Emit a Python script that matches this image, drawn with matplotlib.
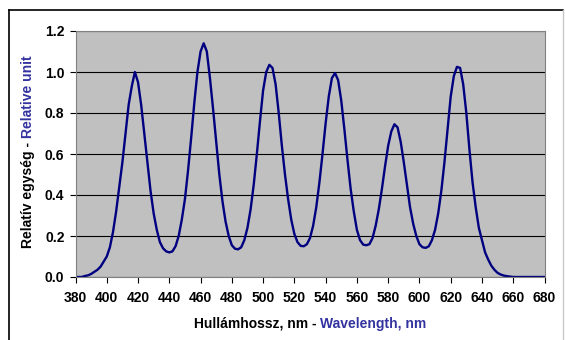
import matplotlib
matplotlib.use("Agg")
import matplotlib.pyplot as plt
from matplotlib.lines import Line2D

# spectrum, 2 nm steps
wavelength = list(range(380, 682, 2))
intensity = [
    0.00, 0.00, 0.00, 0.005, 0.008, 0.015, 0.025, 0.035, 0.05, 0.075,   # 380-398
    0.10, 0.145, 0.22, 0.32, 0.44, 0.56, 0.70, 0.84, 0.93, 1.00,        # 400-418
    0.95, 0.84, 0.70, 0.56, 0.42, 0.31, 0.23, 0.17, 0.14, 0.125,        # 420-438
    0.12, 0.125, 0.15, 0.20, 0.28, 0.38, 0.52, 0.68, 0.85, 1.00,        # 440-458
    1.10, 1.14, 1.10, 0.97, 0.82, 0.66, 0.50, 0.37, 0.27, 0.20,         # 460-478
    0.155, 0.138, 0.135, 0.145, 0.18, 0.24, 0.33, 0.45, 0.60, 0.76,     # 480-498
    0.91, 1.00, 1.035, 1.02, 0.94, 0.80, 0.64, 0.50, 0.38, 0.28,        # 500-518
    0.21, 0.17, 0.152, 0.15, 0.16, 0.19, 0.25, 0.34, 0.46, 0.60,        # 520-538
    0.75, 0.88, 0.97, 0.995, 0.96, 0.86, 0.72, 0.57, 0.43, 0.32,        # 540-558
    0.23, 0.18, 0.158, 0.155, 0.16, 0.19, 0.25, 0.33, 0.43, 0.54,       # 560-578
    0.64, 0.71, 0.745, 0.73, 0.66, 0.56, 0.45, 0.34, 0.26, 0.20,        # 580-598
    0.16, 0.145, 0.142, 0.15, 0.18, 0.23, 0.31, 0.42, 0.56, 0.72,       # 600-618
    0.88, 0.98, 1.025, 1.02, 0.94, 0.80, 0.62, 0.46, 0.34, 0.24,        # 620-638
    0.18, 0.12, 0.085, 0.055, 0.035, 0.02, 0.012, 0.007, 0.004, 0.002,  # 640-658
    0.0, 0.0, 0.0, 0.0, 0.0, 0.0, 0.0, 0.0, 0.0, 0.0, 0.0,              # 660-680
]

x_ticks = list(range(380, 700, 20))
y_ticks = [0.0, 0.2, 0.4, 0.6, 0.8, 1.0, 1.2]

W, H = 565, 340
fs = 10
plt.rcParams['font.family'] = ['Liberation Sans', 'DejaVu Sans']
fig = plt.figure(figsize=(W / 100, H / 100), dpi=100)

# chart border (Excel style frame)
fig.add_artist(Line2D([9 / W, 9 / W], [0, 1 - 10 / H], color='black', lw=1.2))
fig.add_artist(Line2D([9 / W, 563 / W], [1 - 10 / H, 1 - 10 / H], color='black', lw=1.2))
fig.add_artist(Line2D([563 / W, 563 / W], [0, 1 - 10 / H], color='#c8c8c8', lw=1))

left, right, top, bottom = 75.5, 544.5, 31, 277
ax = fig.add_axes([left / W, 1 - bottom / H, (right - left) / W, (bottom - top) / H])
ax.set_facecolor('#c0c0c0')

ax.plot(wavelength, intensity, color='#000080', lw=1.7)

ax.set_xlim(380, 680)
ax.set_ylim(0, 1.2)
ax.set_xticks(x_ticks)
ax.set_yticks(y_ticks)
ax.set_yticklabels(['%.1f' % v for v in y_ticks])
ax.yaxis.grid(True, color='black', lw=0.8)
ax.set_axisbelow(True)
for s in ax.spines.values():
    s.set_color('#808080')
    s.set_linewidth(0.8)
ax.tick_params(axis='both', direction='out', length=4, width=0.8, color='black',
               labelsize=fs)
ax.tick_params(axis='x', pad=6)
ax.tick_params(axis='y', pad=4)
for lab in ax.get_xticklabels() + ax.get_yticklabels():
    lab.set_fontweight('bold')

blue = '#3333a0'
# x label in two colours
fig.text(320 / W, 1 - 324 / H, 'Hullámhossz, nm - ', ha='right', va='center',
         fontsize=fs, fontweight='bold', color='black')
fig.text(320 / W, 1 - 324 / H, 'Wavelength, nm', ha='left', va='center',
         fontsize=fs, fontweight='bold', color=blue)
# y label in two colours
fig.text(28 / W, 1 - 138 / H, 'Relatív egység - ', ha='center', va='top',
         rotation=90, fontsize=fs, fontweight='bold', color='black')
fig.text(28 / W, 1 - 138 / H, 'Relative unit', ha='center', va='bottom',
         rotation=90, fontsize=fs, fontweight='bold', color=blue)

fig.savefig('out.png', dpi=100)
